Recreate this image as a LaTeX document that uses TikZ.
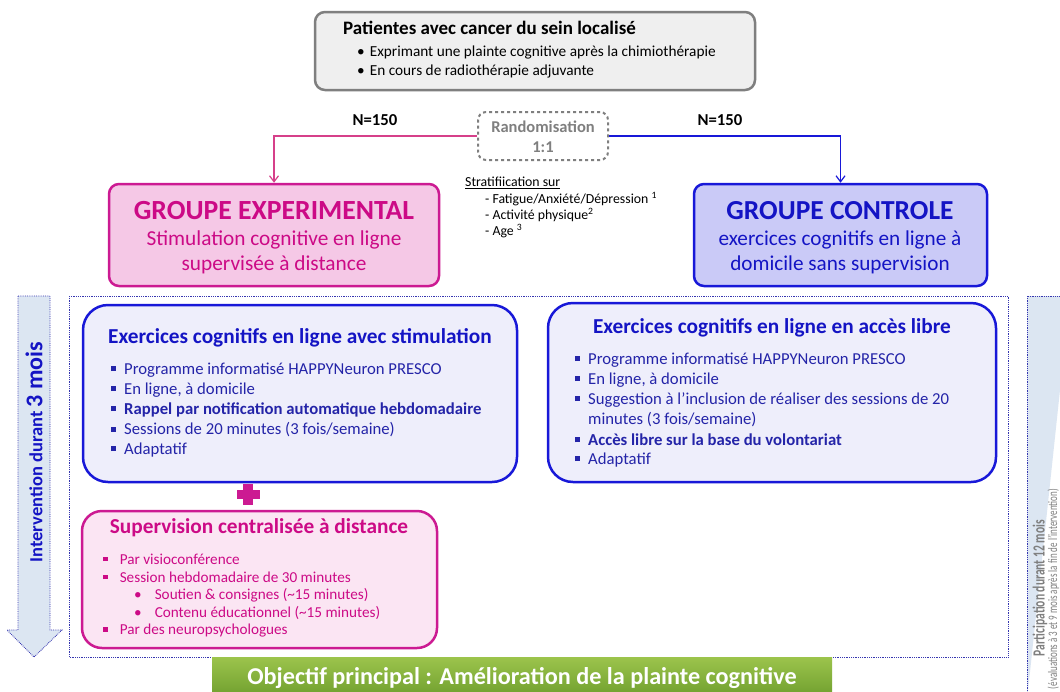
\documentclass[tikz,border=0pt]{standalone}
\usepackage{fontspec}
\usepackage{graphicx}
\setmainfont{Carlito}
\usetikzlibrary{arrows.meta}

\definecolor{grisbord}{HTML}{7F7F7F}
\definecolor{grisfond}{HTML}{EFEFEF}
\definecolor{roseligne}{HTML}{D6408A}
\definecolor{magenta1}{HTML}{CC1A92}
\definecolor{rosefond}{HTML}{F5C8E6}
\definecolor{rosetexte}{HTML}{CC0A86}
\definecolor{roseclair}{HTML}{FBE5F3}
\definecolor{bleu1}{HTML}{1818D8}
\definecolor{bleufond}{HTML}{CACAF7}
\definecolor{bleutexte}{HTML}{1414C4}
\definecolor{bleuclair}{HTML}{EEEEFB}
\definecolor{bleuliste}{HTML}{2424A8}
\definecolor{ciel}{HTML}{DCE6F2}
\definecolor{pointille}{HTML}{3636B0}
\definecolor{vert1}{HTML}{9CC44C}
\definecolor{vert2}{HTML}{6C9C2C}

\newcommand{\carre}{\rule[0.2em]{0.3em}{0.3em}}

\tikzset{
	every node/.style = {inner sep=0pt},
	boite/.style = {draw, line width=2.5pt, rounded corners=10pt},
	gauche/.style = {anchor=west},
	fleche/.style = {line width=1.2pt, -{Straight Barb[length=6pt, width=9pt]}}
}

\begin{document}
\begin{tikzpicture}[x=1pt, y=-1pt]
		\clip (0,0) rectangle (1060,691);
		\fill [white] (0,0) rectangle (1060,691);
		% patientes
		\node [boite, draw=grisbord, fill=grisfond, minimum width=440, minimum height=78](patientes) at (535,51) {};
		\node [gauche, font=\fontsize{19}{21}\selectfont\bfseries](pat_titre) at (343,28) {Patientes avec cancer du sein localisé};
		\node [gauche, font=\fontsize{15.3}{17}\selectfont](pat_l1) at (357,53) {\textbullet\hspace{5pt}Exprimant une plainte cognitive après la chimiothérapie};
		\node [gauche, font=\fontsize{15.3}{17}\selectfont](pat_l2) at (357,71) {\textbullet\hspace{5pt}En cours de radiothérapie adjuvante};
		% randomisation
		\node [draw=grisbord, dashed, line width=2pt, rounded corners=8pt, minimum width=130, minimum height=48](rand) at (543,136) {};
		\node [text=grisbord, font=\fontsize{16.5}{18}\selectfont\bfseries, align=center](rand_txt) at (543,137) {Randomisation\\[2pt]1:1};
		\node [font=\fontsize{16.7}{18}\selectfont\bfseries](n_gauche) at (375,120) {N=150};
		\node [font=\fontsize{16.7}{18}\selectfont\bfseries](n_droite) at (720,120) {N=150};
		% stratification
		\node [gauche, font=\fontsize{13.8}{15}\selectfont](strat) at (465,183) {\underline{Stratifiication sur}};
		\node [gauche, font=\fontsize{13.8}{15}\selectfont](strat1) at (485,199) {- Fatigue/Anxiété/Dépression \textsuperscript{1}};
		\node [gauche, font=\fontsize{13.8}{15}\selectfont](strat2) at (485,215) {- Activité physique\textsuperscript{2}};
		\node [gauche, font=\fontsize{13.8}{15}\selectfont](strat3) at (485,231) {- Age \textsuperscript{3}};
		% groupes
		\node [boite, draw=magenta1, fill=rosefond, minimum width=330, minimum height=102](ge) at (274,235) {};
		\node [text=rosetexte, font=\fontsize{27.7}{30}\selectfont\bfseries](ge_titre) at (274,211) {GROUPE EXPERIMENTAL};
		\node [text=rosetexte, font=\fontsize{21.3}{23}\selectfont](ge_l1) at (274,240) {Stimulation cognitive en ligne};
		\node [text=rosetexte, font=\fontsize{21.3}{23}\selectfont](ge_l2) at (274,265) {supervisée à distance};
		\node [boite, draw=bleu1, fill=bleufond, minimum width=293, minimum height=102](gc) at (840.5,235) {};
		\node [text=bleutexte, font=\fontsize{27.5}{30}\selectfont\bfseries](gc_titre) at (840,211) {GROUPE CONTROLE};
		\node [text=bleutexte, font=\fontsize{21.2}{23}\selectfont](gc_l1) at (840,240) {exercices cognitifs en ligne à};
		\node [text=bleutexte, font=\fontsize{21.2}{23}\selectfont](gc_l2) at (840,265) {domicile sans supervision};
		\draw [fleche, roseligne] (rand.west) -| (ge.north);
		\draw [fleche, bleu1] (rand.east) -| (gc.north);
		% cadre et fleches laterales
		\draw [pointille, densely dotted, line width=0.8pt] (69,296) rectangle (1008,657);
		\draw [pointille, densely dotted, line width=0.8pt, fill=ciel] (18,296) -- (50,296) -- (50,630) -- (62,630) -- (34,657) -- (7,630) -- (18,630) -- cycle;
		\node [rotate=90, text=bleutexte, font=\fontsize{18.5}{20}\selectfont\bfseries](intervention) at (34,452) {Intervention durant {\fontsize{24}{26}\selectfont 3 mois}};
		\draw [pointille, densely dotted, line width=0.8pt, fill=ciel] (1027,700) -- (1027,296) -- (1070,296);
		\node [rotate=90, text=grisbord, font=\fontsize{17}{19}\selectfont\bfseries](participation) at (1040,588) {\resizebox{136pt}{\height}{Participation durant 12 mois}};
		\node [rotate=90, text=grisbord, font=\fontsize{13}{14}\selectfont](evaluations) at (1053.5,589) {\resizebox{200pt}{\height}{(évaluations à 3 et 9 mois après la fin de l’intervention)}};
		% exercices avec stimulation
		\node [boite, rounded corners=25pt, draw=bleu1, fill=bleuclair, minimum width=434, minimum height=177](ecs) at (300,393.5) {};
		\node [text=bleutexte, font=\fontsize{21.3}{23}\selectfont\bfseries](ecs_titre) at (300,338) {Exercices cognitifs en ligne avec stimulation};
		\foreach \t [count=\i from 0] in {Programme informatisé HAPPYNeuron PRESCO, {En ligne, à domicile}, \textbf{Rappel par notification automatique hebdomadaire}, Sessions de 20 minutes (3 fois/semaine), Adaptatif}
			\node [gauche, text=bleuliste, font=\fontsize{16.7}{18}\selectfont](ecs_l\i) at (111,370+20*\i) {\carre\hspace{8pt}\t};
		% exercices en acces libre
		\node [boite, rounded corners=25pt, draw=bleu1, fill=bleuclair, minimum width=448, minimum height=179](ecl) at (772,392.5) {};
		\node [text=bleutexte, font=\fontsize{21.3}{23}\selectfont\bfseries](ecl_titre) at (772,328) {Exercices cognitifs en ligne en accès libre};
		\foreach \t [count=\i from 0] in {Programme informatisé HAPPYNeuron PRESCO, {En ligne, à domicile}, Suggestion à l’inclusion de réaliser des sessions de 20, \phantom{\carre}\hspace{8pt}minutes (3 fois/semaine), \textbf{Accès libre sur la base du volontariat}, Adaptatif}
			\node [gauche, text=bleuliste, font=\fontsize{16.7}{18}\selectfont](ecl_l\i) at (575,360+20*\i) {\ifnum\i=3 \t\else\carre\hspace{8pt}\t\fi};
		% plus
		\fill [magenta1] (243,484) rectangle (253,505);
		\fill [magenta1] (237,490) rectangle (260,499);
		% supervision
		\node [boite, rounded corners=20pt, draw=magenta1, fill=roseclair, minimum width=355, minimum height=137](sup) at (259.5,579.5) {};
		\node [text=rosetexte, font=\fontsize{21.3}{23}\selectfont\bfseries](sup_titre) at (259,528) {Supervision centralisée à distance};
		\node [gauche, text=rosetexte, font=\fontsize{15.2}{17}\selectfont](sup_l1) at (103,559) {\carre\hspace{12pt}Par visioconférence};
		\node [gauche, text=rosetexte, font=\fontsize{15.2}{17}\selectfont](sup_l2) at (103,577) {\carre\hspace{12pt}Session hebdomadaire de 30 minutes};
		\node [gauche, text=rosetexte, font=\fontsize{15.2}{17}\selectfont](sup_l3) at (134,595) {\textbullet\hspace{13pt}Soutien \& consignes (\textasciitilde15 minutes)};
		\node [gauche, text=rosetexte, font=\fontsize{15.2}{17}\selectfont](sup_l4) at (134,613) {\textbullet\hspace{13pt}Contenu éducationnel (\textasciitilde15 minutes)};
		\node [gauche, text=rosetexte, font=\fontsize{15.2}{17}\selectfont](sup_l5) at (103,631) {\carre\hspace{12pt}Par des neuropsychologues};
		% objectif
		\shade [top color=vert1, bottom color=vert2] (212,657) rectangle (832,700);
		\node [text=white, font=\fontsize{24.2}{26}\selectfont\bfseries](objectif) at (522,678) {Objectif principal : Amélioration de la plainte cognitive};
\end{tikzpicture}
\end{document}
